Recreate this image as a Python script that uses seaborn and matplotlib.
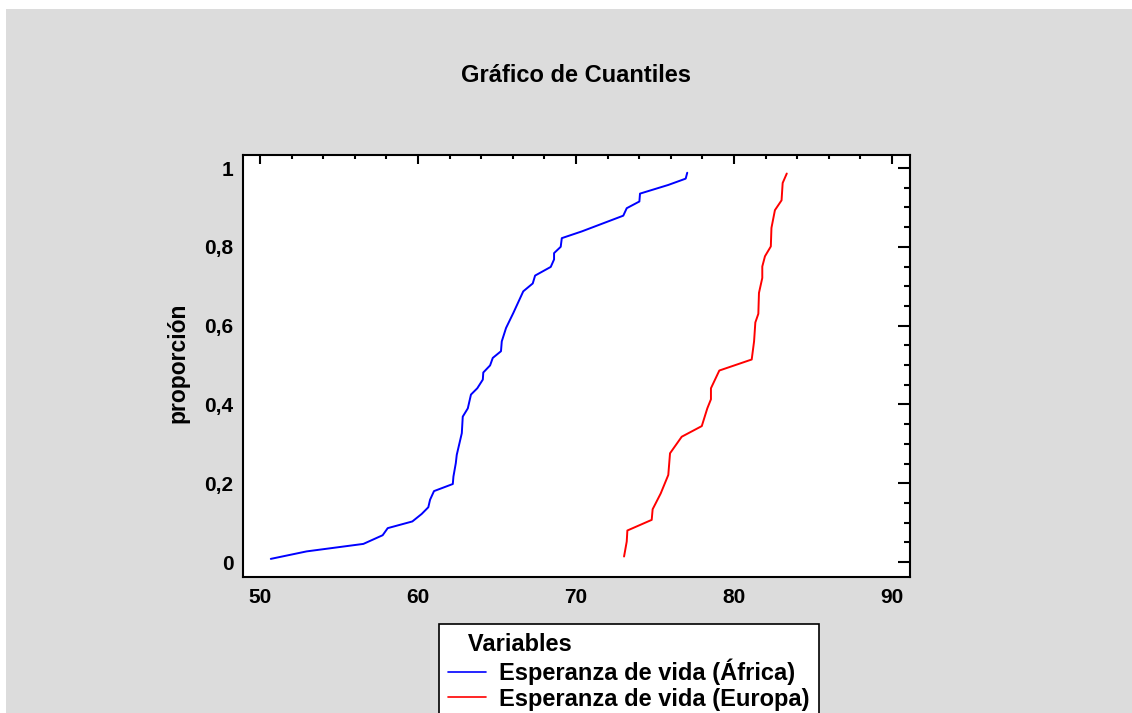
import pandas as pd
import matplotlib
matplotlib.use('Agg')
import matplotlib.pyplot as plt
from matplotlib.patches import Rectangle
from matplotlib.ticker import MultipleLocator, FixedLocator, FuncFormatter
import seaborn as sns

# Esperanza de vida ordenada y proporción acumulada
africa_vida = [50.68, 52.95, 56.54, 57.76, 58.08, 59.64, 60.23, 60.65, 60.76, 61.01,
               62.20, 62.24, 62.39, 62.45, 62.77, 62.83, 63.15, 63.35, 63.75, 64.10,
               64.13, 64.56, 64.73, 65.25, 65.30, 65.57, 66.03, 66.66, 67.26, 67.41,
               68.40, 68.61, 68.61, 69.03, 69.10, 70.36, 72.99, 73.21, 74.01, 74.05,
               75.84, 76.94, 77.04]
africa_prop = [0.008, 0.027, 0.046, 0.068, 0.086, 0.103, 0.122, 0.139, 0.158, 0.180,
               0.198, 0.217, 0.251, 0.272, 0.327, 0.369, 0.390, 0.425, 0.441, 0.463,
               0.481, 0.499, 0.518, 0.535, 0.560, 0.594, 0.632, 0.687, 0.707, 0.727,
               0.749, 0.768, 0.784, 0.800, 0.822, 0.839, 0.879, 0.898, 0.915, 0.935,
               0.957, 0.973, 0.988]

europa_vida = [73.04, 73.21, 73.25, 74.79, 74.85, 75.36, 75.84, 75.95, 76.69, 77.96,
               78.31, 78.54, 78.54, 79.07, 81.12, 81.27, 81.35, 81.54, 81.58, 81.79,
               81.79, 81.96, 82.33, 82.37, 82.59, 83.01, 83.08, 83.34]
europa_prop = [0.014, 0.052, 0.080, 0.107, 0.134, 0.174, 0.221, 0.276, 0.318, 0.345,
               0.390, 0.413, 0.441, 0.486, 0.514, 0.560, 0.608, 0.630, 0.683, 0.721,
               0.750, 0.776, 0.801, 0.848, 0.893, 0.918, 0.962, 0.986]

series_names = ['Esperanza de vida (África)', 'Esperanza de vida (Europa)']
series_colors = ['#0000ff', '#ff0000']
x_ticks = [50, 60, 70, 80, 90]
y_ticks = [0, 0.2, 0.4, 0.6, 0.8, 1]

df = pd.concat([
    pd.DataFrame({'vida': africa_vida, 'prop': africa_prop, 'serie': series_names[0]}),
    pd.DataFrame({'vida': europa_vida, 'prop': europa_prop, 'serie': series_names[1]}),
], ignore_index=True)

sns.set_theme(style='white')
plt.rcParams['font.family'] = ['Liberation Sans', 'DejaVu Sans']
plt.rcParams['font.weight'] = 'bold'
plt.rcParams['text.color'] = 'black'

fig = plt.figure(figsize=(11.32, 7.13), dpi=100)
fig.patch.set_facecolor('white')
# fondo gris con un pequeño margen blanco arriba y a la izquierda
fig.patches.append(Rectangle((6 / 1132, 0), 1, 1 - 9 / 713, transform=fig.transFigure,
                             facecolor='#dcdcdc', edgecolor='none', zorder=-10))

ax = fig.add_axes([243 / 1132, 1 - 577 / 713, 667 / 1132, 422 / 713])
ax.set_facecolor('white')

sns.lineplot(data=df, x='vida', y='prop', hue='serie', palette=series_colors,
             estimator=None, sort=False, linewidth=1.4, ax=ax)

ax.set_xlim(48.92, 91.14)
ax.set_ylim(-0.038, 1.033)

ax.xaxis.set_major_locator(FixedLocator(x_ticks))
ax.xaxis.set_minor_locator(MultipleLocator(2))
ax.yaxis.set_major_locator(FixedLocator(y_ticks))
ax.yaxis.set_minor_locator(MultipleLocator(0.05))
ax.yaxis.set_major_formatter(FuncFormatter(lambda v, p: f'{v:g}'.replace('.', ',')))

for s in ax.spines.values():
    s.set_linewidth(1.5)
    s.set_color('black')

ax.tick_params(axis='both', which='both', direction='in', top=True, right=True,
               color='black', width=1.5, labelsize=15, labelcolor='black')
ax.tick_params(axis='x', which='major', length=6.5, pad=8)
ax.tick_params(axis='x', which='minor', length=3)
ax.tick_params(axis='y', which='major', length=9, pad=7)
ax.tick_params(axis='y', which='minor', length=4)
for lbl in ax.get_xticklabels() + ax.get_yticklabels():
    lbl.set_fontweight('bold')

ax.set_xlabel('')
ax.set_ylabel('proporción', fontsize=16.5, fontweight='bold', color='black')
ax.yaxis.set_label_coords(-0.08, 0.507)

fig.text(576 / 1132, 1 - 76 / 713, 'Gráfico de Cuantiles', ha='center', va='center',
         fontsize=17, fontweight='bold', color='black')

handles, labels = ax.get_legend_handles_labels()
leg = ax.legend(handles, labels, title='   Variables', loc='upper left',
                bbox_to_anchor=(439 / 1132, 1 - 624 / 713), bbox_transform=fig.transFigure,
                borderaxespad=0, frameon=True, fancybox=False, fontsize=17,
                title_fontsize=17, handlelength=1.6, handletextpad=0.55,
                borderpad=0.4, labelspacing=0.1, alignment='left')
leg.get_frame().set_edgecolor('black')
leg.get_frame().set_linewidth(1.2)
leg.get_frame().set_facecolor('white')
leg.get_frame().set_alpha(1)
leg.get_title().set_fontweight('bold')
leg.get_title().set_color('black')
for t in leg.get_texts():
    t.set_fontweight('bold')
    t.set_color('black')
for ln in leg.get_lines():
    ln.set_linewidth(1.2)

fig.savefig('out.png', dpi=100)
